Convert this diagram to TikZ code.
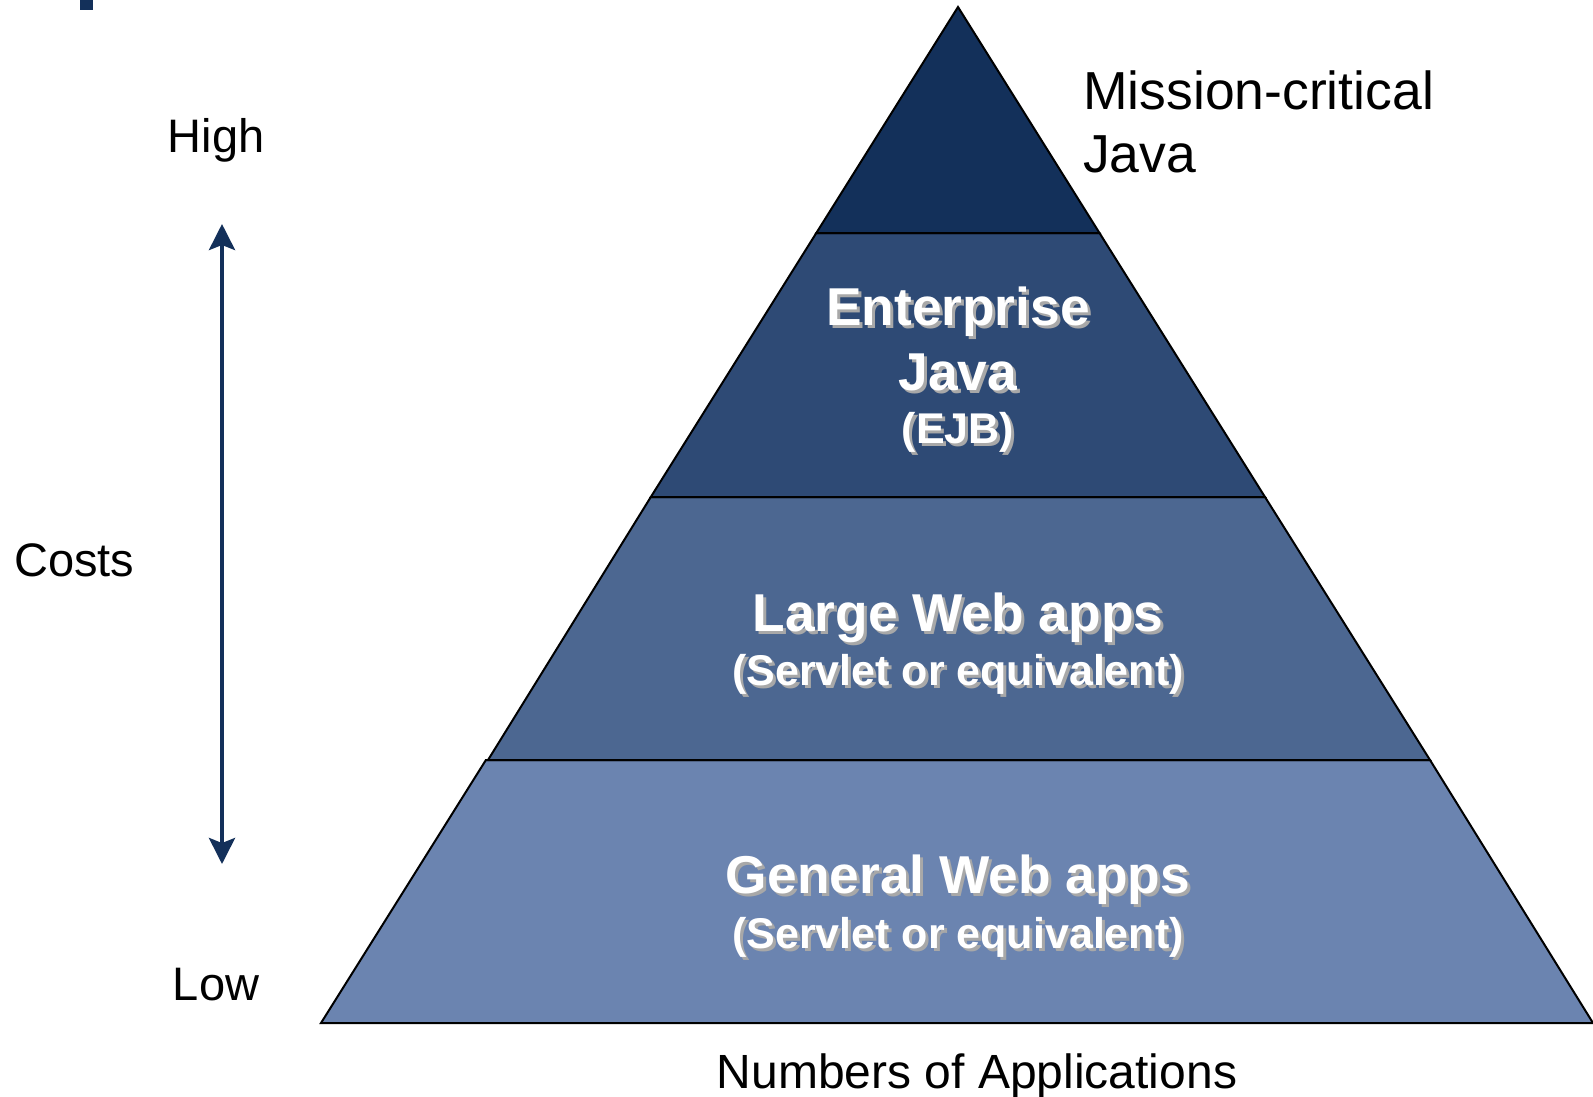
\documentclass[tikz,border=0pt]{standalone}
\usepackage{fontspec}
\setmainfont{Liberation Sans}
\usetikzlibrary{arrows.meta}
\definecolor{layA}{HTML}{13305A}
\definecolor{layB}{HTML}{2E4A75}
\definecolor{layC}{HTML}{4C6791}
\definecolor{layD}{HTML}{6B84B0}
\definecolor{arrowc}{HTML}{13305A}
\definecolor{shadowc}{HTML}{A8A8A8}
\begin{document}
\begin{tikzpicture}[x=1pt,y=-1pt,
  layer/.style={draw=black,line width=2pt,line join=miter},
  plain/.style={inner sep=0pt,text=black,font=\fontsize{47}{56}\selectfont},
  bigplain/.style={inner sep=0pt,text=black,font=\fontsize{53.5}{60}\selectfont},
  btitle/.style={inner sep=0pt,text=white,font=\bfseries\fontsize{53.3}{60}\selectfont},
  bsub/.style={inner sep=0pt,text=white,font=\bfseries\fontsize{43}{50}\selectfont},
  shd/.style={text=shadowc},
  costarrow/.style={draw=arrowc,line width=4pt,
    {Stealth[length=26pt,width=26pt,inset=5pt]}-{Stealth[length=26pt,width=26pt,inset=5pt]}}
]
\useasboundingbox (0,0) rectangle (1593,1096);
\fill[white] (0,0) rectangle (1593,1096);
% title fragment
\fill[layA] (80,0) rectangle (93,10);
% pyramid layers
\filldraw[layer,fill=layD] (485.9,760) -- (1430,760) -- (1593,1023) -- (321,1023) -- cycle;
\filldraw[layer,fill=layC] (650.8,497) -- (1265,497) -- (1430,760) -- (488,760) -- cycle;
\filldraw[layer,fill=layB] (816.3,233) -- (1099.5,233) -- (1265,497) -- (650.8,497) -- cycle;
\filldraw[layer,fill=layA] (958,7) -- (1099.5,233) -- (816.3,233) -- cycle;
% layer texts with shadows
\node[btitle,shd,anchor=base] (ent-s) at (961,328) {Enterprise};
\node[btitle,anchor=base] (ent) at (958,325) {Enterprise};
\node[btitle,shd,anchor=base] (java-s) at (961,393) {Java};
\node[btitle,anchor=base] (java) at (958,390) {Java};
\node[bsub,shd,anchor=base] (ejb-s) at (961,446) {(EJB)};
\node[bsub,anchor=base] (ejb) at (958,443) {(EJB)};
\node[btitle,shd,anchor=base] (large-s) at (961,634) {Large Web apps};
\node[btitle,anchor=base] (large) at (958,631) {Large Web apps};
\node[bsub,shd,anchor=base] (lsrv-s) at (961,688) {(Servlet or equivalent)};
\node[bsub,anchor=base] (lsrv) at (958,685) {(Servlet or equivalent)};
\node[btitle,shd,anchor=base] (gen-s) at (961,896) {General Web apps};
\node[btitle,anchor=base] (gen) at (958,893) {General Web apps};
\node[bsub,shd,anchor=base] (gsrv-s) at (961,951) {(Servlet or equivalent)};
\node[bsub,anchor=base] (gsrv) at (958,948) {(Servlet or equivalent)};
% side labels
\node[plain,anchor=base] (high) at (216,152) {High};
\node[plain,anchor=base west] (costs) at (14,576) {Costs};
\node[plain,anchor=base] (low) at (216,1000) {Low};
\node[bigplain,anchor=base west] (mc1) at (1083,109) {Mission-critical};
\node[bigplain,anchor=base west] (mc2) at (1083,172) {Java};
\node[inner sep=0pt,text=black,font=\fontsize{48}{56}\selectfont,anchor=base] (numapps) at (977,1088) {Numbers of Applications};
% cost arrow
\coordinate (atop) at (222,224);
\coordinate (abot) at (222,864);
\draw[costarrow] (atop) -- (abot);
\end{tikzpicture}
\end{document}
